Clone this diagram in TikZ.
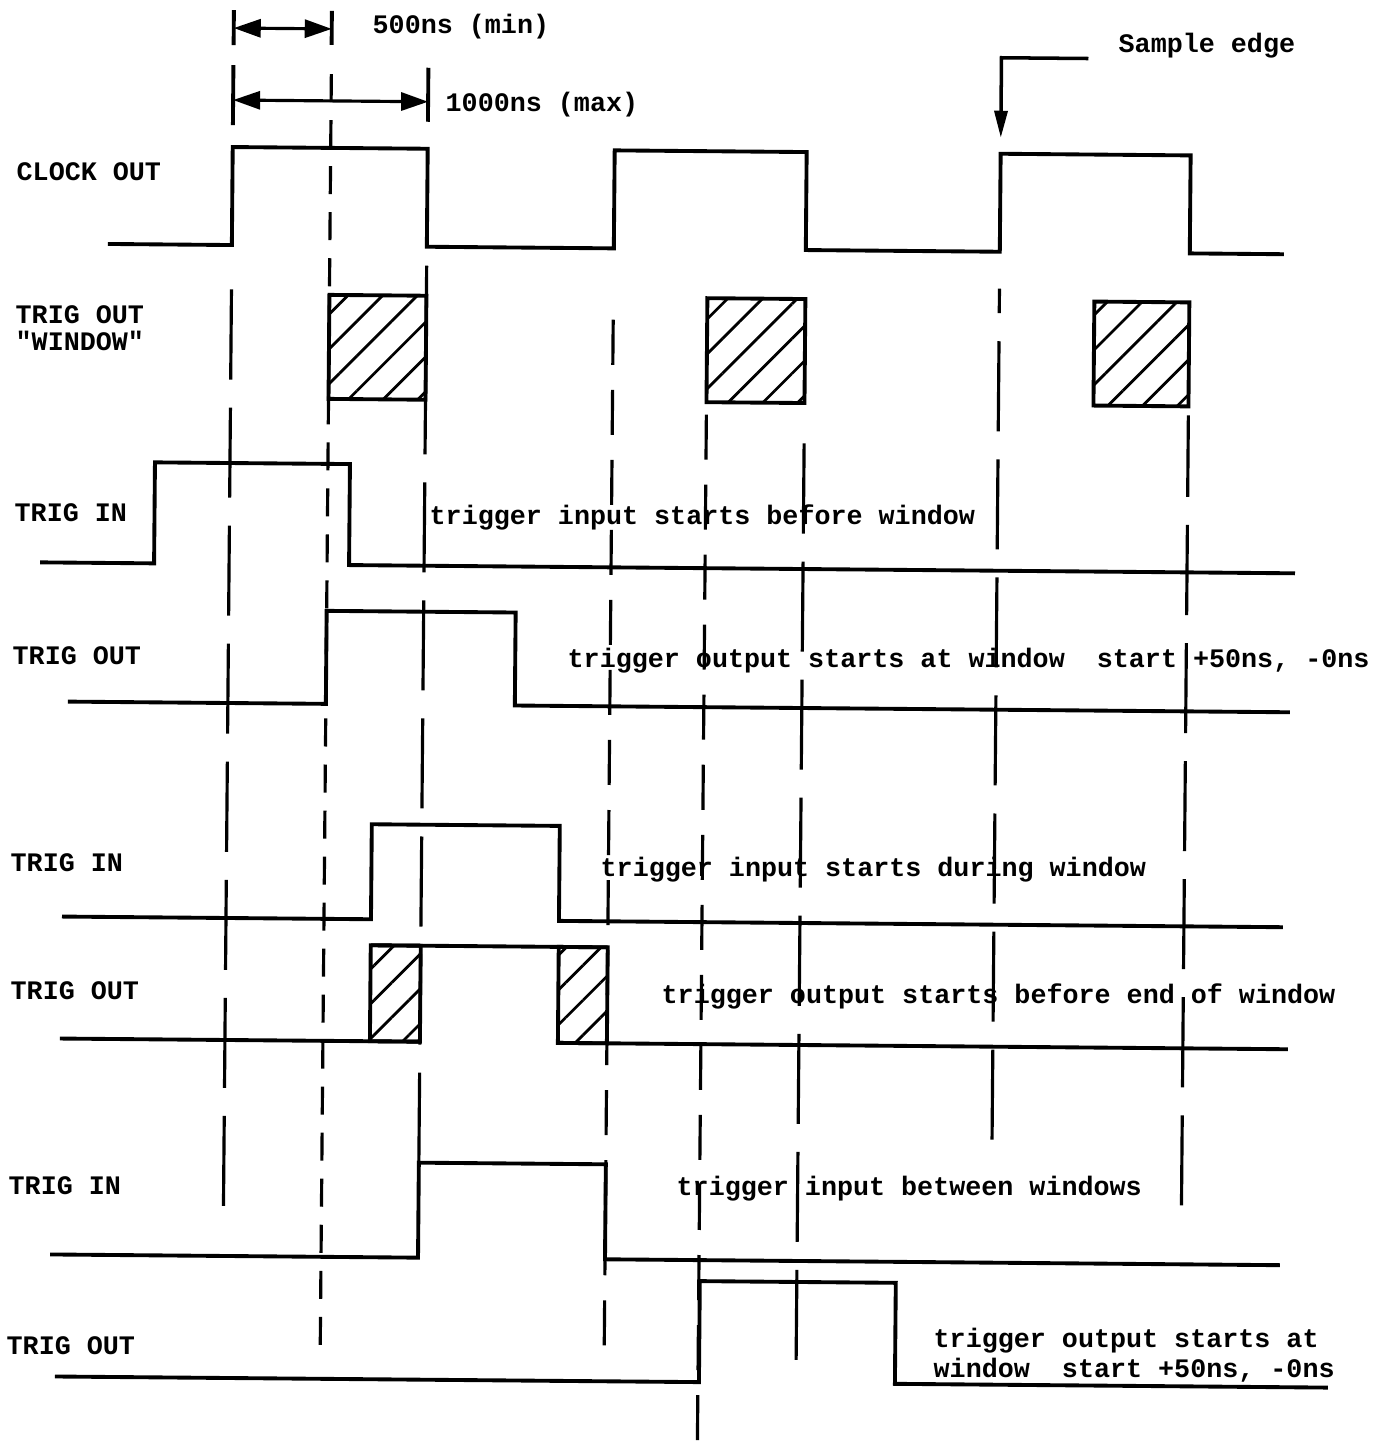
\documentclass[tikz,border=0pt]{standalone}
\usepackage{fontspec}
\setmonofont{Liberation Mono}
\usetikzlibrary{arrows.meta, patterns.meta}
\tikzset{>={Triangle[length=0.27cm, width=0.18cm]}}
\tikzset{wave/.style = {line width=1.1pt}}
\tikzset{guide-l/.style = {line width=0.9pt, dash pattern=on 0.9cm off 0.28cm}}
\tikzset{guide-m/.style = {line width=0.9pt, dash pattern=on 0.45cm off 0.25cm}}
\tikzset{guide-s/.style = {line width=0.9pt, dash pattern=on 0.28cm off 0.18cm}}
\tikzset{window/.style = {draw, line width=1.1pt, pattern={Lines[angle=45, distance=7pt, line width=0.8pt]}}}
\tikzset{sig-name/.style = {anchor=base west, inner sep=0pt}}
\tikzset{sig-note/.style = {anchor=base west, inner sep=0pt}}

\begin{document}
\begin{tikzpicture}[x=0.01cm, y=-0.01cm, font=\ttfamily\bfseries\fontsize{7.6pt}{9pt}\selectfont]
  \useasboundingbox (0,0) rectangle (1382,1444);
  % the scanned sheet is turned by half a degree
  \begin{scope}[rotate=-0.5]
    % dimension marks
    \draw[wave] (234,8) -- (234,43) (234,63) -- (234,123)
                (332,8) -- (332,42) (429,64) -- (429,118);
    \draw[<->, line width=0.9pt] (234,26) -- (332,26);
    \draw[<->, line width=0.9pt] (234,98) -- (429,98);
    \draw[-{Triangle[length=0.27cm, width=0.13cm]}, line width=1pt]
      (1089,49) -- (1002,49) -- (1002,129);

    % guide lines, drawn upwards from their lower ends
    \foreach \x/\a/\b/\s in
    {234/262/1204/guide-l, 332/55/1342/guide-s, 429/262/1159/guide-l,
     616/290/1340/guide-m, 710/405/1434/guide-m, 808/420/1353/guide-l,
     1002/280/1131/guide-l, 1192/405/1195/guide-l}
    {
      \draw[\s] (\x,\b) -- (\x,\a);
    }

    % CLOCK OUT
    \draw[wave] (110,243) -| (234,145) -| (429,243) -| (616,145) -| (808,243)
      -| (1002,145) -| (1192,243) -- (1286,243);
    % TRIG OUT "WINDOW"
    \foreach \l/\r in {332/429, 710/808, 1097/1192}
    {
      \path[window] (\l,292) rectangle (\r,396);
    }
    % trigger before window
    \draw[wave] (45,562) -| (159,461) -| (354,562) -- (1300,562);
    \draw[wave] (74,701) -| (332,608) -| (521,701) -- (1296,701);
    % trigger during window
    \draw[wave] (70,916) -| (379,821) -| (567,916) -- (1291,916);
    \draw[wave] (69,1038) -- (429,1038);
    \path[window] (379,942) rectangle (429,1038);
    \draw[wave] (379,942) -- (616,942);
    \path[window] (567,942) rectangle (616,1038);
    \draw[wave] (567,1038) -- (1297,1038);
    % trigger between windows
    \draw[wave] (61,1254) -| (429,1159) -| (616,1254) -- (1291,1254);
    \draw[wave] (67,1376) -| (711,1275) -| (907,1376) -- (1340,1376);
  \end{scope}

  \node[sig-note] (min) at (372,33) {500ns (min)};
  \node[sig-note] (max) at (445,111) {1000ns (max)};
  \node[sig-note] (sample) at (1118,52) {Sample edge};

  \node[sig-name] (clk) at (16,180) {CLOCK OUT};
  \node[sig-name] (win) at (15,323) {TRIG OUT};
  \node[sig-name] (win2) at (15,350) {"WINDOW"};
  \node[sig-name] (in1) at (14,521) {TRIG IN};
  \node[sig-name] (out1) at (12,664) {TRIG OUT};
  \node[sig-name] (in2) at (10,871) {TRIG IN};
  \node[sig-name] (out2) at (10,999) {TRIG OUT};
  \node[sig-name] (in3) at (8,1194) {TRIG IN};
  \node[sig-name] (out3) at (6,1354) {TRIG OUT};

  \node[sig-note] (note1) at (429,524) {trigger input starts before window};
  \node[sig-note] (note2) at (567,667) {trigger output starts at window\ \ start +50ns, -0ns};
  \node[sig-note] (note3) at (600,876) {trigger input starts during window};
  \node[sig-note] (note4) at (661,1003) {trigger output starts before end of window};
  \node[sig-note] (note5) at (676,1195) {trigger input between windows};
  \node[sig-note] (note6) at (933,1347) {trigger output starts at};
  \node[sig-note] (note7) at (933,1377) {window\ \ start +50ns, -0ns};
\end{tikzpicture}
\end{document}
